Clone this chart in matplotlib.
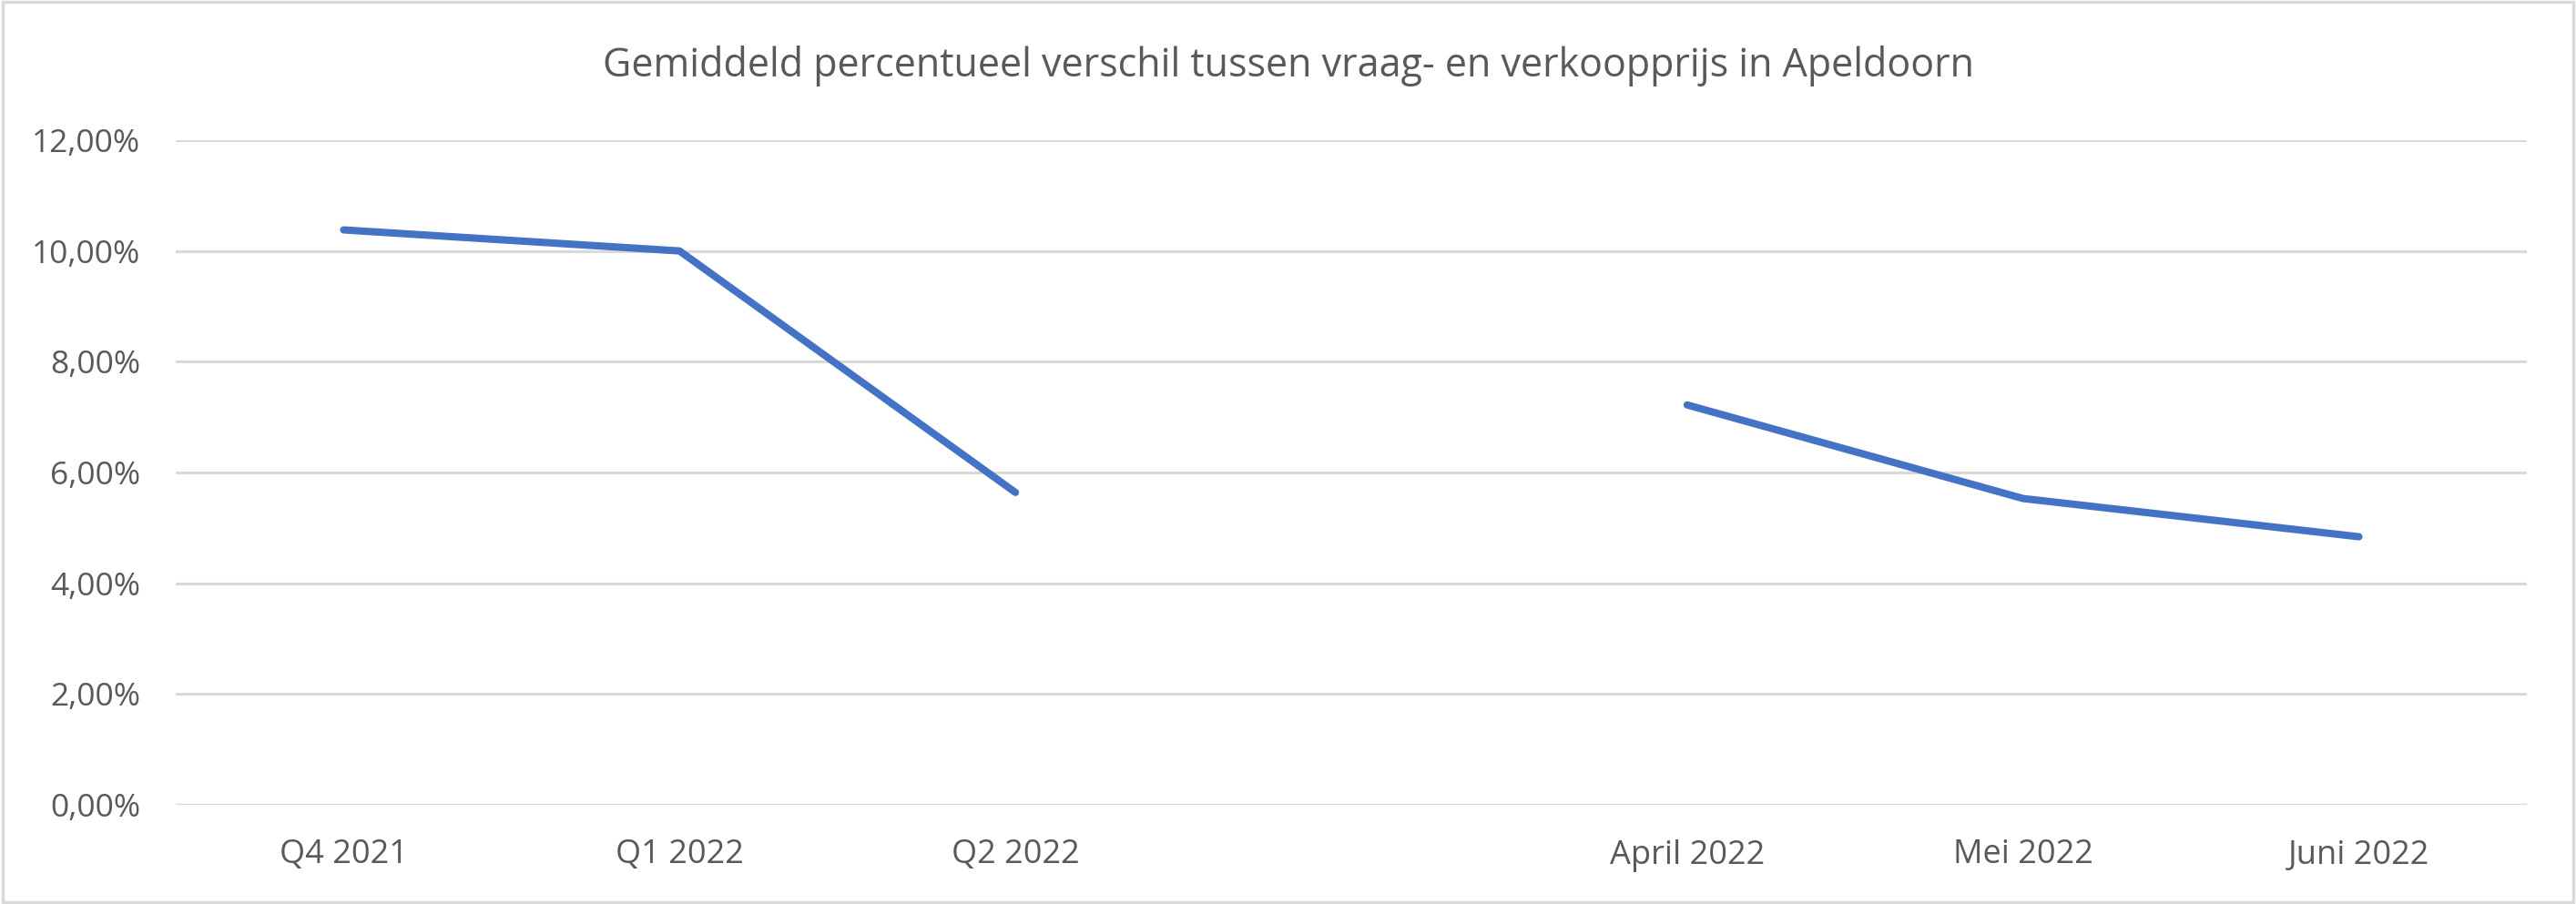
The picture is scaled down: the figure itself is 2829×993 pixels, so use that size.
import numpy as np
import matplotlib
matplotlib.use("Agg")
import matplotlib.pyplot as plt
from matplotlib.patches import Rectangle
from matplotlib.ticker import FuncFormatter

plt.rcParams['font.family'] = ['Open Sans', 'DejaVu Sans']

categories = ["Q4 2021", "Q1 2022", "Q2 2022", "", "April 2022", "Mei 2022", "Juni 2022"]
values = [10.38, 10.0, 5.64, np.nan, 7.22, 5.53, 4.84]
title = "Gemiddeld percentueel verschil tussen vraag- en verkoopprijs in Apeldoorn"

W, H = 2829, 993
fig = plt.figure(figsize=(W / 100, H / 100), dpi=100)
ax = fig.add_axes([193 / W, 1 - 884 / H, (2775 - 193) / W, (884 - 154) / H])

x = np.arange(len(categories))
ax.plot(x, values, color="#4472C4", lw=5.8, solid_capstyle="round", solid_joinstyle="round")

ax.set_xlim(-0.5, len(categories) - 0.5)
ax.set_ylim(0, 12)
ax.set_yticks(np.arange(0, 12.1, 2))
ax.yaxis.set_major_formatter(FuncFormatter(lambda v, p: f"{v:.2f}%".replace(".", ",")))
ax.set_xticks(x)
ax.set_xticklabels(categories)

ax.grid(axis="y", color="#D9D9D9", lw=2.2)
ax.set_axisbelow(True)
for s in ax.spines.values():
    s.set_visible(False)
ax.tick_params(length=0, labelcolor="#595959")
ax.tick_params(axis="y", pad=28, labelsize=25.5)
ax.tick_params(axis="x", pad=27, labelsize=26)

fig.text(0.5, 1 - 72 / H, title, ha="center", va="center", fontsize=31, color="#595959")
fig.patches.append(Rectangle((0.001, 0.002), 0.998, 0.996, transform=fig.transFigure,
                             fill=False, edgecolor="#D9D9D9", lw=2.5))

fig.savefig("out.png", dpi=100, facecolor="white")
